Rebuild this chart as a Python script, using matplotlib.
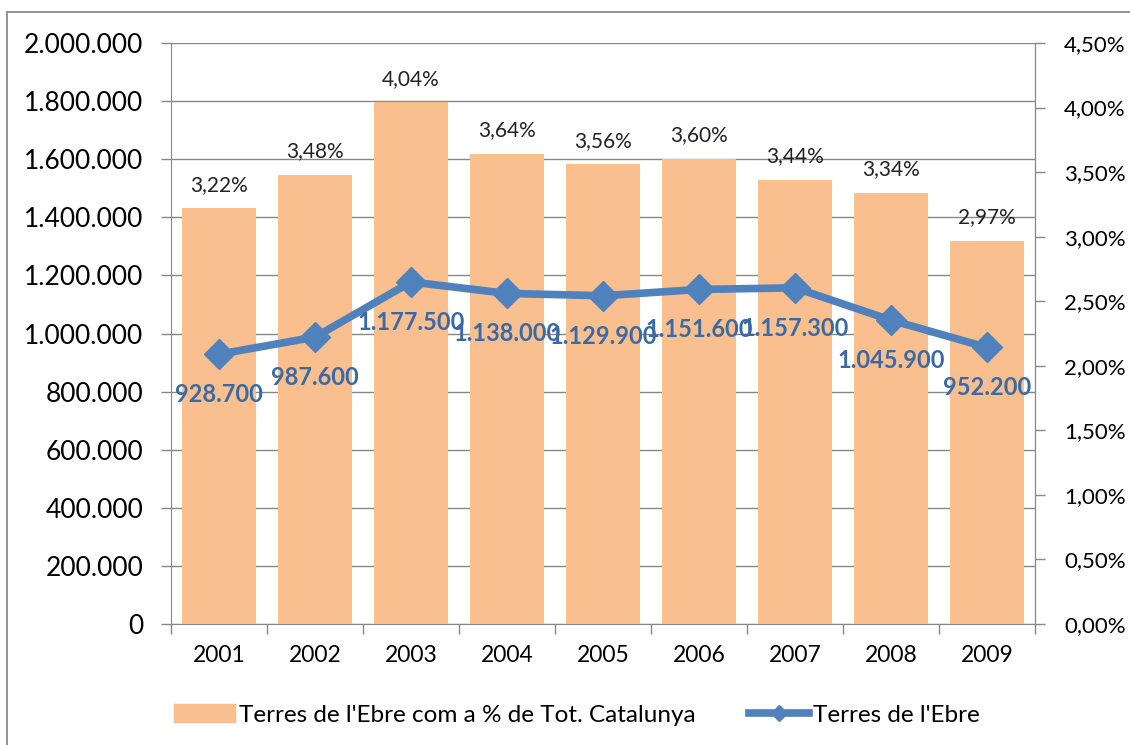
import matplotlib.pyplot as plt
import matplotlib.patches as mpatches
from matplotlib.lines import Line2D
import numpy as np

plt.rcParams['font.family'] = ['Lato', 'DejaVu Sans']

years = ['2001', '2002', '2003', '2004', '2005', '2006', '2007', '2008', '2009']
pct_catalunya = [3.22, 3.48, 4.04, 3.64, 3.56, 3.60, 3.44, 3.34, 2.97]
terres_ebre = [928700, 987600, 1177500, 1138000, 1129900, 1151600, 1157300, 1045900, 952200]

bar_color = '#F9BF8F'
line_color = '#4F81BD'
label_blue = '#3A6AA6'
grid_gray = '#878787'


def dots(v):
    return '{:,.0f}'.format(v).replace(',', '.')


def pct(v):
    return '{:.2f}%'.format(v).replace('.', ',')


fig = plt.figure(figsize=(11.3, 7.45), dpi=100)
fig.patch.set_facecolor('white')

# outer chart border
fig.add_artist(mpatches.Rectangle((7 / 1130, -0.05), 1.2, 1 - 12 / 745 + 0.05,
                                  transform=fig.transFigure, fill=False,
                                  edgecolor='#8c8c8c', linewidth=1.3))

ax = fig.add_axes([171 / 1130, 1 - 624 / 745, 864 / 1130, 581 / 745])
x = np.arange(len(years))

# left axis: scale + gridlines
ax.set_ylim(0, 2000000)
ax.set_xlim(-0.5, len(years) - 0.5)
ax.set_yticks(np.arange(0, 2000001, 200000))
ax.set_yticklabels([dots(v) for v in np.arange(0, 2000001, 200000)], fontsize=19)
ax.yaxis.grid(True, color=grid_gray, linewidth=1)
ax.set_axisbelow(True)
ax.tick_params(axis='y', direction='out', length=7, width=1, color=grid_gray, pad=13)
ax.set_xticks(x)
ax.set_xticklabels(years, fontsize=16.5)
ax.set_xticks(np.arange(-0.5, len(years)), minor=True)
ax.tick_params(axis='x', which='major', length=0, pad=15)
ax.tick_params(axis='x', which='minor', direction='out', length=7, width=1, color=grid_gray)
for s in ax.spines.values():
    s.set_color(grid_gray)
ax.spines['top'].set_visible(False)

# bars on the right (percentage) axis
axb = ax.twinx()
axb.bar(x, pct_catalunya, width=0.77, color=bar_color, zorder=2)
axb.set_ylim(0, 4.5)
axb.set_yticks(np.arange(0, 4.51, 0.5))
axb.set_yticklabels([pct(v) for v in np.arange(0, 4.51, 0.5)], fontsize=16)
axb.tick_params(axis='y', direction='out', length=7, width=1, color=grid_gray, pad=14)
for s in axb.spines.values():
    s.set_visible(False)
axb.spines['right'].set_visible(True)
axb.spines['right'].set_color(grid_gray)
for xi, v in zip(x, pct_catalunya):
    axb.annotate(pct(v), (xi, v), xytext=(0, 17), textcoords='offset points',
                 ha='center', va='center', fontsize=15, color='#222222')

# line on the left axis scale
axl = ax.twinx()
axl.set_ylim(ax.get_ylim())
axl.set_yticks([])
for s in axl.spines.values():
    s.set_visible(False)
axl.plot(x, terres_ebre, color=line_color, linewidth=5.5, marker='D',
         markersize=15, zorder=3)
for xi, v in zip(x, terres_ebre):
    axl.annotate(dots(v), (xi, v), xytext=(0, -29), textcoords='offset points',
                 ha='center', va='center', fontsize=17, fontweight='bold',
                 color=label_blue)

handles = [mpatches.Patch(color=bar_color),
           Line2D([], [], color=line_color, linewidth=5.5, marker='D', markersize=8)]
fig.legend(handles, ["Terres de l'Ebre com a % de Tot. Catalunya", "Terres de l'Ebre"],
           loc='center', bbox_to_anchor=(577 / 1130, 1 - 715 / 745), ncol=2,
           frameon=False, fontsize=17.5, handlelength=2.5, handletextpad=0.15,
           columnspacing=2.2, handleheight=0.7)

fig.savefig('out.png', dpi=100)
